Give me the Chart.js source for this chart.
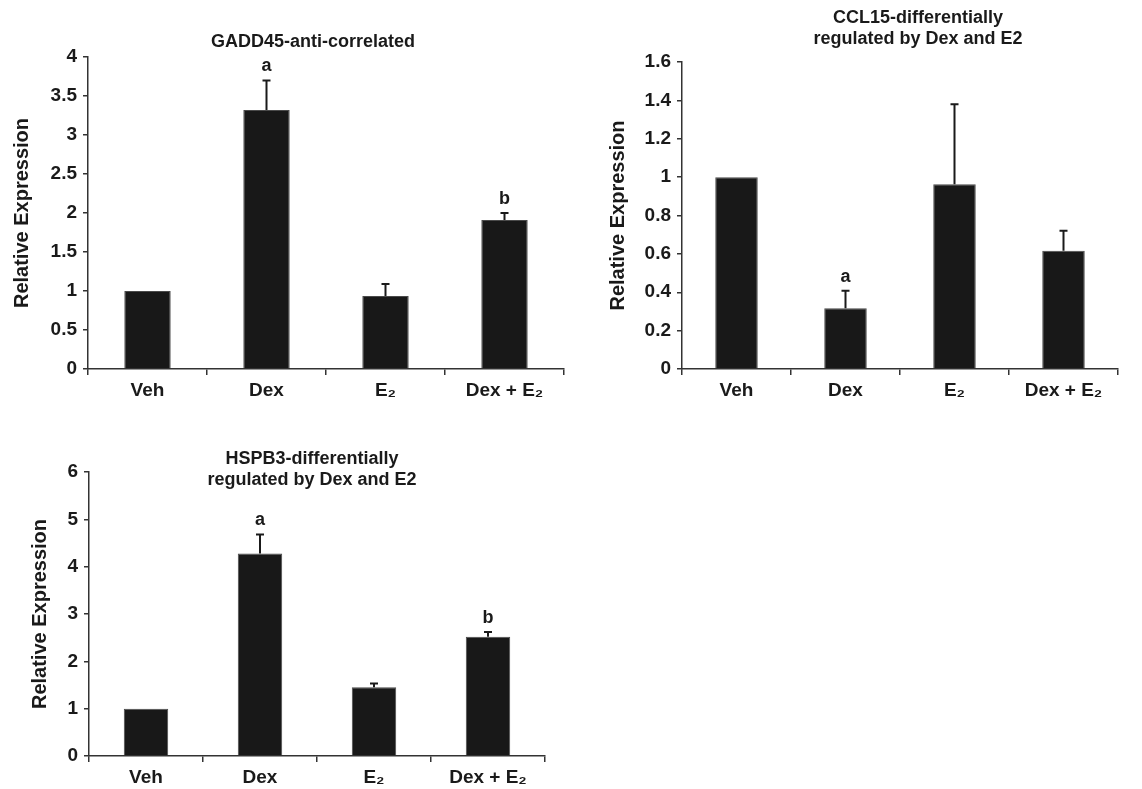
<!DOCTYPE html>
<html>
<head>
<meta charset="utf-8">
<script src="https://cdn.jsdelivr.net/npm/chart.js@4.4.1/dist/chart.umd.min.js"></script>
<style>
body { margin: 0; background: #fff; }
#wrap { position: relative; width: 1142px; height: 789px; background: #fff; }
canvas { position: absolute; }
</style>
</head>
<body>
<div id="wrap">
  <canvas id="c1" width="590" height="400" style="left:0px;top:0px"></canvas>
  <canvas id="c2" width="552" height="400" style="left:590px;top:0px"></canvas>
  <canvas id="c3" width="590" height="389" style="left:0px;top:400px"></canvas>
</div>
<script>
// categories shared by all three panels
var categories = ['Veh', 'Dex', 'E\u2082', 'Dex + E\u2082'];

// GADD45
var gaddValues = [1.0, 3.32, 0.935, 1.91];
var gaddErrors = [0, 0.38, 0.155, 0.09];
var gaddLetters = ['', 'a', '', 'b'];
var gaddTicks = [0, 0.5, 1, 1.5, 2, 2.5, 3, 3.5, 4];

// CCL15
var cclValues = [1.0, 0.316, 0.963, 0.616];
var cclErrors = [0, 0.092, 0.417, 0.104];
var cclLetters = ['', 'a', '', ''];
var cclTicks = [0, 0.2, 0.4, 0.6, 0.8, 1, 1.2, 1.4, 1.6];

// HSPB3
var hspValues = [1.0, 4.28, 1.45, 2.52];
var hspErrors = [0, 0.40, 0.08, 0.10];
var hspLetters = ['', 'a', '', 'b'];
var hspTicks = [0, 1, 2, 3, 4, 5, 6];

var FONT = '"Liberation Sans", Arial, Helvetica, sans-serif';
var INK = '#1a1a1a';

// whiskers (upper only) + significance letters
var errorBars = {
  id: 'errorBars',
  afterDatasetsDraw: function(chart) {
    var ctx = chart.ctx;
    var ds = chart.data.datasets[0];
    var meta = chart.getDatasetMeta(0);
    var ys = chart.scales.y;
    ctx.save();
    ctx.strokeStyle = INK;
    ctx.fillStyle = INK;
    ctx.lineWidth = 2;
    ctx.font = 'bold 18px ' + FONT;
    ctx.textAlign = 'center';
    ctx.textBaseline = 'middle';
    meta.data.forEach(function(bar, i) {
      var top = bar.y;
      var e = ds.errors[i];
      if (e > 0) {
        var yE = ys.getPixelForValue(ds.data[i] + e);
        ctx.beginPath();
        ctx.moveTo(bar.x, top);
        ctx.lineTo(bar.x, yE);
        ctx.moveTo(bar.x - 4, yE);
        ctx.lineTo(bar.x + 4, yE);
        ctx.stroke();
        top = yE;
      }
      if (ds.letters[i]) {
        ctx.fillText(ds.letters[i], bar.x, top - 14);
      }
    });
    ctx.restore();
  }
};

// panel title, free placed (the HSPB3 one sits inside the plot)
var panelTitle = {
  id: 'panelTitle',
  afterDraw: function(chart, args, opts) {
    var ctx = chart.ctx;
    ctx.save();
    ctx.fillStyle = INK;
    ctx.font = 'bold 18px ' + FONT;
    ctx.textAlign = 'center';
    ctx.textBaseline = 'middle';
    for (var i = 0; i < opts.lines.length; i++) {
      ctx.fillText(opts.lines[i], opts.x, opts.y + i * 21);
    }
    ctx.restore();
  }
};

function makePanel(id, values, errors, letters, ticks, titleLines, box) {
  var canvas = document.getElementById(id);
  return new Chart(canvas, {
    type: 'bar',
    data: {
      labels: categories,
      datasets: [{
        data: values,
        errors: errors,
        letters: letters,
        backgroundColor: '#181818',
        borderColor: '#4a4a4a',
        borderWidth: 1,
        barPercentage: 0.39,
        categoryPercentage: 1.0
      }]
    },
    options: {
      responsive: false,
      animation: false,
      layout: { padding: { top: box.top, right: canvas.width - box.right, bottom: 0, left: 0 } },
      plugins: {
        legend: { display: false },
        tooltip: { enabled: false },
        panelTitle: { lines: titleLines, x: box.titleX, y: box.titleY }
      },
      scales: {
        x: {
          offset: true,
          grid: { offset: true, drawOnChartArea: false, color: '#333', tickLength: 6, lineWidth: 1.5 },
          border: { color: '#333', width: 1.5 },
          ticks: { color: INK, font: { family: FONT, size: 19, weight: 'bold' }, padding: 4 },
          afterFit: function(s) { s.height = canvas.height - box.bottom; }
        },
        y: {
          min: ticks[0],
          max: ticks[ticks.length - 1],
          afterBuildTicks: function(s) { s.ticks = ticks.map(function(v) { return { value: v }; }); },
          grid: { drawOnChartArea: false, color: '#333', tickLength: 5, lineWidth: 1.5 },
          border: { color: '#333', width: 1.5 },
          ticks: {
            color: INK,
            font: { family: FONT, size: 19, weight: 'bold' },
            padding: 6,
            callback: function(v) { return String(+Number(v).toFixed(2)); }
          },
          title: {
            display: true,
            text: 'Relative Expression',
            color: INK,
            font: { family: FONT, size: 20, weight: 'bold' },
            padding: { top: box.yTitlePad, bottom: 0 }
          },
          afterFit: function(s) { s.width = box.left; }
        }
      }
    },
    plugins: [errorBars, panelTitle]
  });
}

makePanel('c1', gaddValues, gaddErrors, gaddLetters, gaddTicks,
  ['GADD45-anti-correlated'],
  { left: 88, right: 564, top: 57, bottom: 369, titleX: 313, titleY: 42, yTitlePad: 10 });

makePanel('c2', cclValues, cclErrors, cclLetters, cclTicks,
  ['CCL15-differentially', 'regulated by Dex and E2'],
  { left: 92, right: 528, top: 62, bottom: 369, titleX: 328, titleY: 18, yTitlePad: 16 });

makePanel('c3', hspValues, hspErrors, hspLetters, hspTicks,
  ['HSPB3-differentially', 'regulated by Dex and E2'],
  { left: 89, right: 545, top: 72, bottom: 356, titleX: 312, titleY: 59, yTitlePad: 28 });
</script>
</body>
</html>
